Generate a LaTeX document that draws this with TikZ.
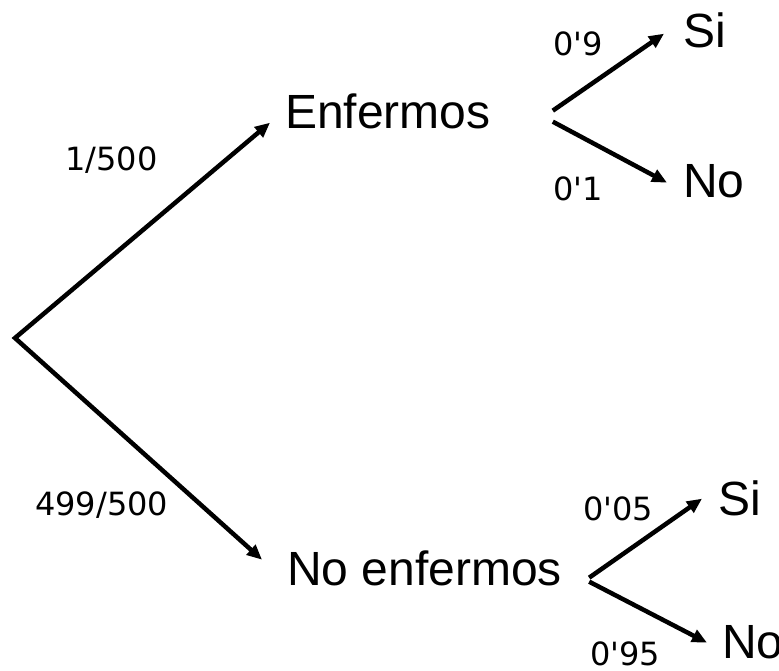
\documentclass[tikz,border=0pt]{standalone}
\usepackage{fontspec}
\setmainfont{Liberation Sans}
\newfontfamily\numfont{DejaVu Sans}
\usetikzlibrary{arrows.meta}

\tikzset{
	>={Triangle[length=15pt,width=13pt]},
	big/.style={inner sep=0pt, anchor=base west, font=\fontsize{48}{56}\selectfont},
	prob/.style={inner sep=0pt, anchor=base west, font=\numfont\fontsize{32}{38}\selectfont},
	arr/.style={line width=4.5pt, ->},
}

\begin{document}
\begin{tikzpicture}[x=1pt, y=-1pt]
	\useasboundingbox (0,0) rectangle (779,670);
	
	\coordinate (root) at (15,338);
	
	\node[big](enf) at (285,128){Enfermos};
	\node[big](noenf) at (287,585){No enfermos};
	
	\node[big](si_e) at (683,47){Si};
	\node[big](no_e) at (683,197){No};
	\node[big](si_n) at (718,515){Si};
	\node[big](no_n) at (722,658){No};
	
	\node[prob](p_enf) at (65,170){1/500};
	\node[prob](p_noenf) at (35,515){499/500};
	\node[prob](p_si_e) at (553,55){0\textquotesingle 9};
	\node[prob](p_no_e) at (553,200){0\textquotesingle 1};
	\node[prob](p_si_n) at (583,520){0\textquotesingle 05};
	\node[prob](p_no_n) at (590,665){0\textquotesingle 95};
	
	\draw[arr, <->, line join=miter] ([shift={(-15,-6)}]enf.south west) -- (root) -- ([shift={(-25,-26)}]noenf.south west);
	
	\draw[arr] ([shift={(62,-18)}]enf.south east) -- ([shift={(-19,-14)}]si_e.south west);
	\draw[arr] ([shift={(62,-7)}]enf.south east) -- ([shift={(-16,-15)}]no_e.south west);
	
	\draw[arr] ([shift={(27,-8)}]noenf.south east) -- ([shift={(-16,-17)}]si_n.south west);
	\draw[arr] ([shift={(27,-4)}]noenf.south east) -- ([shift={(-15,-16)}]no_n.south west);
\end{tikzpicture}
\end{document}
